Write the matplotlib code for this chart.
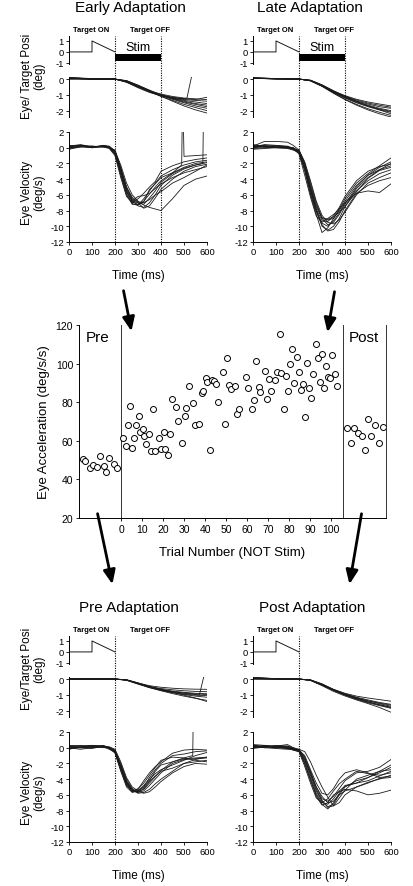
import matplotlib
matplotlib.use("Agg")
import matplotlib.pyplot as plt
from matplotlib.patches import FancyArrowPatch

plt.rcParams['font.family'] = ['Liberation Sans', 'DejaVu Sans']
plt.rcParams['axes.unicode_minus'] = False

W, H = 414, 887

## sample times (ms) for the eye traces
VT = [0, 50, 100, 150, 175, 200, 225, 250, 275, 300, 325, 350, 375, 400, 450, 500, 550, 600]
PT = [0, 100, 200, 250, 300, 350, 400, 450, 500, 550, 600]

target_t = [0, 100, 100, 200]
target_y = [0, 0, 1, 0]

## ---- Early adaptation ----
early_vel = [
    [0.1, 0.3, 0.1, 0.2, 0.0, -0.8, -3.5, -6.0, -7.2, -7.3, -6.5, -5.5, -4.5, -3.6, -2.8, -2.2, -1.8, -1.6],
    [-0.1, 0.2, 0.0, 0.3, 0.1, -0.5, -3.0, -5.5, -6.9, -7.2, -6.8, -5.9, -5.0, -4.2, -3.2, -2.5, -2.0, -1.8],
    [0.2, 0.4, 0.1, 0.2, 0.0, -0.3, -2.5, -5.0, -6.6, -7.4, -7.6, -7.0, -6.0, -4.8, -3.5, -2.7, -2.2, -1.9],
    [0.0, 0.1, 0.1, 0.2, 0.1, -0.6, -2.8, -5.2, -6.5, -7.0, -7.7, -7.4, -6.4, -5.3, -4.0, -3.0, -2.4, -2.1],
    [0.3, 0.2, 0.0, 0.1, -0.1, -1.0, -3.8, -6.2, -7.0, -6.5, -5.8, -5.0, -4.3, -3.0, -2.3, -1.8, -1.5, -1.3],
    [-0.2, 0.1, 0.1, 0.3, 0.2, -0.4, -2.2, -4.5, -6.0, -6.8, -7.3, -7.6, -7.8, -8.0, -6.5, -4.8, -4.0, -3.6],
    [0.1, 0.3, 0.0, 0.2, 0.0, -0.7, -3.2, -5.6, -6.8, -6.2, -6.1, -5.8, -5.2, -4.6, -3.8, -3.2, -2.8, -2.4],
    [0.0, 0.2, 0.2, 0.1, 0.0, -0.5, -2.7, -5.0, -6.3, -6.9, -7.0, -6.6, -6.0, -5.6, -4.5, -3.8, -3.0, -2.2],
]
early_vel_s1_t = [0, 50, 100, 150, 175, 200, 225, 250, 275, 300, 325, 350, 375, 400, 450, 490, 494, 500, 550, 600]
early_vel_s1 = [0.2, 0.3, 0.1, 0.2, 0.1, -0.9, -3.3, -5.8, -7.1, -7.3, -6.9, -5.3, -4.6, -3.8, -3.2, -2.2, 8, -1.1, -1.0, -0.9]
early_vel_s2_t = [0, 50, 100, 150, 175, 200, 225, 250, 275, 300, 325, 350, 375, 400, 450, 500, 550, 582, 586]
early_vel_s2 = [-0.1, 0.2, 0.2, 0.1, 0.0, -0.4, -2.6, -5.4, -6.8, -7.0, -7.2, -6.4, -5.5, -4.4, -3.3, -2.6, -2.2, -2.0, 8]

early_pos = [
    [0.05, 0.0, 0.0, -0.15, -0.45, -0.75, -0.95, -1.1, -1.2, -1.25, -1.3],
    [0.1, 0.0, 0.0, -0.2, -0.5, -0.8, -1.0, -1.2, -1.35, -1.45, -1.55],
    [0.05, 0.02, 0.0, -0.1, -0.4, -0.7, -1.0, -1.25, -1.45, -1.6, -1.75],
    [0.0, 0.0, 0.0, -0.12, -0.45, -0.8, -1.1, -1.35, -1.6, -1.8, -2.0],
    [0.1, 0.03, 0.0, -0.2, -0.55, -0.85, -1.05, -1.2, -1.3, -1.35, -1.4],
    [0.05, 0.0, -0.02, -0.1, -0.38, -0.72, -1.08, -1.4, -1.7, -1.95, -2.15],
    [0.0, 0.0, 0.0, -0.15, -0.48, -0.78, -1.02, -1.22, -1.4, -1.55, -1.65],
    [0.08, 0.02, 0.0, -0.18, -0.5, -0.8, -1.05, -1.28, -1.5, -1.7, -1.85],
    [0.05, 0.0, 0.0, -0.14, -0.45, -0.76, -1.0, -1.15, -1.25, -1.3, -1.15],
]
early_pos_s_t = [0, 100, 200, 250, 300, 350, 400, 450, 500, 512, 538]
early_pos_s = [0.05, 0.0, 0.0, -0.15, -0.47, -0.78, -1.02, -1.18, -1.24, -1.25, 0.5]

## ---- Late adaptation ----
late_vel = [
    [0.2, 0.8, 0.8, 0.7, 0.3, -0.3, -2.0, -4.5, -7.0, -9.0, -9.8, -9.5, -8.5, -7.2, -5.0, -3.5, -2.5, -1.8],
    [0.0, 0.1, 0.0, -0.1, -0.3, -0.6, -2.5, -5.5, -8.0, -10.0, -10.5, -10.0, -9.0, -7.5, -5.2, -3.8, -2.8, -2.0],
    [0.3, 0.2, 0.1, 0.0, -0.2, -0.5, -3.0, -6.0, -8.5, -10.8, -10.2, -9.0, -7.8, -6.5, -4.5, -3.3, -2.3, -1.3],
    [-0.2, -0.1, 0.0, 0.0, -0.1, -0.8, -3.5, -6.3, -8.7, -9.5, -9.0, -8.5, -7.8, -7.0, -5.8, -5.5, -5.7, -4.6],
    [0.1, 0.2, 0.3, 0.1, 0.0, -0.4, -2.2, -5.0, -7.5, -9.0, -9.2, -9.0, -8.0, -6.8, -4.8, -3.5, -2.8, -2.3],
    [0.0, 0.3, 0.1, 0.1, -0.2, -0.7, -2.8, -5.8, -8.2, -9.6, -10.0, -9.3, -8.3, -7.0, -5.5, -4.2, -3.3, -2.8],
    [0.4, 0.2, 0.0, 0.0, -0.2, -0.3, -1.8, -4.2, -6.8, -8.6, -9.5, -9.7, -9.2, -8.2, -6.0, -4.5, -3.8, -3.2],
    [-0.1, 0.0, 0.1, 0.0, -0.1, -0.5, -2.4, -5.2, -7.8, -9.3, -9.4, -8.7, -7.6, -6.2, -4.2, -3.0, -2.4, -2.1],
    [0.2, 0.1, 0.2, 0.1, 0.0, -0.6, -2.6, -5.4, -7.9, -9.8, -10.6, -10.4, -9.4, -8.0, -5.8, -4.8, -4.2, -3.8],
    [0.1, 0.4, 0.3, 0.2, -0.1, -0.4, -2.0, -4.8, -7.3, -8.9, -9.1, -8.8, -8.2, -7.5, -5.6, -3.9, -2.9, -2.5],
]
late_pos = [
    [0.05, 0.02, 0.0, -0.08, -0.38, -0.75, -1.05, -1.28, -1.45, -1.58, -1.7],
    [0.08, 0.03, 0.0, -0.1, -0.42, -0.82, -1.15, -1.42, -1.65, -1.85, -2.0],
    [0.05, 0.0, 0.0, -0.12, -0.45, -0.85, -1.2, -1.5, -1.75, -1.95, -2.1],
    [0.1, 0.02, 0.0, -0.1, -0.44, -0.88, -1.28, -1.6, -1.88, -2.1, -2.3],
    [0.05, 0.02, 0.0, -0.09, -0.4, -0.8, -1.12, -1.38, -1.58, -1.75, -1.85],
    [0.06, 0.01, 0.0, -0.11, -0.46, -0.9, -1.3, -1.65, -1.95, -2.2, -2.4],
    [0.04, 0.02, 0.0, -0.07, -0.36, -0.74, -1.1, -1.42, -1.7, -1.95, -2.2],
    [0.07, 0.03, 0.0, -0.1, -0.43, -0.83, -1.18, -1.47, -1.7, -1.9, -2.05],
    [0.05, 0.01, 0.0, -0.08, -0.4, -0.78, -1.08, -1.33, -1.52, -1.66, -1.78],
]

## ---- Pre adaptation ----
pre_vel = [
    [0.1, 0.2, 0.3, 0.2, 0.0, -0.5, -2.5, -4.5, -5.5, -5.6, -5.0, -3.8, -2.8, -2.0, -1.0, -0.8, -0.5, -0.4],
    [-0.1, 0.0, 0.2, 0.1, 0.1, -0.3, -2.0, -4.0, -5.2, -5.7, -5.5, -4.8, -4.0, -3.2, -2.0, -1.5, -1.4, -1.3],
    [0.2, 0.3, 0.1, 0.3, 0.0, -0.6, -2.8, -4.8, -5.6, -5.2, -4.5, -3.5, -2.5, -1.6, -1.2, -1.3, -1.6, -1.8],
    [0.0, -0.2, 0.0, 0.1, -0.1, -0.4, -2.2, -4.2, -5.4, -5.8, -5.7, -5.3, -4.6, -4.0, -3.0, -2.0, -1.5, -1.2],
    [-0.2, 0.1, 0.3, 0.2, 0.0, -0.7, -3.0, -5.0, -5.7, -5.5, -4.8, -4.0, -3.3, -2.8, -2.2, -1.6, -1.0, -0.6],
    [0.1, 0.0, -0.1, 0.2, -0.1, -0.5, -2.4, -4.4, -5.4, -5.7, -5.2, -4.3, -3.6, -3.0, -2.6, -2.0, -1.8, -1.6],
    [0.3, 0.2, 0.2, 0.1, 0.1, -0.2, -1.8, -3.8, -5.0, -5.5, -5.8, -5.6, -5.0, -4.3, -3.2, -2.4, -2.0, -2.1],
    [0.0, 0.1, 0.2, 0.0, 0.0, -0.4, -2.6, -4.6, -5.5, -5.4, -5.0, -4.2, -3.0, -2.2, -1.8, -1.4, -1.3, -1.2],
    [0.2, 0.0, 0.1, 0.1, -0.2, -0.6, -2.7, -4.7, -5.6, -5.3, -4.2, -3.2, -2.4, -1.8, -0.7, -0.3, -0.2, -0.3],
]
pre_vel_s1_t = [0, 50, 100, 150, 175, 200, 225, 250, 275, 300, 325, 350, 375, 400, 450, 500, 538, 542]
pre_vel_s1 = [-0.1, 0.1, 0.0, 0.2, 0.0, -0.5, -2.3, -4.3, -5.3, -5.6, -5.3, -4.5, -3.7, -2.9, -1.8, -1.3, -1.0, 8]

pre_pos = [
    [0.0, 0.0, 0.0, -0.05, -0.25, -0.42, -0.52, -0.58, -0.62, -0.64, -0.65],
    [0.02, 0.0, 0.0, -0.06, -0.28, -0.48, -0.6, -0.68, -0.74, -0.78, -0.8],
    [0.0, 0.01, 0.0, -0.07, -0.3, -0.52, -0.68, -0.8, -0.88, -0.94, -0.98],
    [0.01, 0.0, 0.0, -0.05, -0.26, -0.5, -0.7, -0.86, -0.98, -1.08, -1.15],
    [0.0, 0.0, 0.0, -0.08, -0.32, -0.55, -0.72, -0.85, -0.95, -1.02, -1.05],
    [0.02, 0.01, 0.0, -0.06, -0.29, -0.53, -0.74, -0.92, -1.08, -1.22, -1.35],
    [0.0, 0.0, 0.0, -0.04, -0.24, -0.46, -0.66, -0.84, -1.02, -1.2, -1.42],
    [0.01, 0.0, 0.0, -0.06, -0.27, -0.48, -0.64, -0.76, -0.84, -0.9, -0.93],
]
pre_pos_s_t = [0, 100, 200, 250, 300, 350, 400, 450, 500, 550, 567, 590]
pre_pos_s = [0.0, 0.0, 0.0, -0.06, -0.28, -0.5, -0.66, -0.8, -0.9, -0.98, -1.0, 0.4]

## ---- Post adaptation ----
post_vel = [
    [0.3, 0.2, 0.1, 0.0, -0.2, -0.3, -1.5, -3.5, -5.5, -6.8, -7.5, -7.2, -6.0, -5.0, -4.2, -3.8, -3.2, -2.5],
    [0.1, 0.2, 0.0, -0.1, -0.2, -0.4, -2.0, -4.2, -6.0, -7.2, -7.8, -7.0, -5.8, -4.8, -4.5, -4.2, -3.6, -3.0],
    [0.4, 0.3, 0.2, 0.1, -0.1, -0.3, -1.2, -3.0, -5.0, -6.5, -6.8, -6.2, -5.2, -4.2, -3.2, -3.0, -2.5, -1.5],
    [-0.1, 0.1, 0.2, 0.0, -0.3, -0.5, -2.4, -4.5, -6.4, -7.0, -6.5, -5.5, -4.6, -4.0, -3.0, -3.3, -3.5, -3.2],
    [0.2, 0.0, -0.1, -0.2, -0.2, -0.2, -0.5, -1.8, -3.5, -5.0, -6.3, -7.4, -7.0, -6.0, -5.0, -4.4, -4.0, -3.5],
    [0.0, 0.3, 0.1, 0.2, -0.1, -0.4, -1.8, -3.8, -5.8, -7.0, -7.2, -6.5, -5.5, -4.9, -4.5, -3.8, -3.0, -2.8],
    [0.3, 0.1, 0.2, 0.4, 0.0, -0.3, -1.0, -2.8, -4.5, -5.8, -6.0, -5.2, -4.0, -3.2, -2.8, -3.2, -3.8, -3.6],
    [0.1, 0.2, 0.0, 0.1, -0.2, -0.3, -2.1, -4.0, -6.2, -7.3, -7.0, -6.0, -5.6, -5.3, -5.5, -6.0, -5.8, -5.4],
    [0.2, 0.0, 0.1, -0.1, -0.3, -0.5, -1.6, -3.3, -5.3, -6.7, -7.6, -7.4, -6.4, -5.4, -4.0, -3.5, -3.0, -2.2],
    [0.0, 0.1, 0.3, 0.2, 0.0, -0.2, -1.3, -3.2, -5.0, -6.2, -7.0, -6.8, -6.0, -5.5, -5.0, -4.5, -3.9, -3.8],
]
post_pos = [
    [0.05, 0.0, 0.0, -0.06, -0.32, -0.65, -0.9, -1.08, -1.2, -1.3, -1.4],
    [0.1, 0.02, 0.0, -0.08, -0.38, -0.72, -0.98, -1.2, -1.38, -1.52, -1.65],
    [0.0, 0.0, 0.0, -0.07, -0.36, -0.7, -0.98, -1.22, -1.44, -1.62, -1.78],
    [0.02, 0.01, 0.0, -0.09, -0.42, -0.78, -1.07, -1.32, -1.55, -1.8, -2.1],
    [0.12, 0.02, 0.0, -0.05, -0.3, -0.66, -0.95, -1.18, -1.38, -1.56, -1.72],
    [0.0, 0.0, 0.0, -0.07, -0.35, -0.7, -1.0, -1.25, -1.46, -1.64, -1.8],
    [0.03, 0.01, 0.0, -0.08, -0.37, -0.72, -1.02, -1.28, -1.5, -1.68, -1.85],
    [0.05, 0.0, 0.0, -0.06, -0.33, -0.67, -0.94, -1.15, -1.32, -1.48, -1.6],
]

## ---- eye acceleration per trial ----
pre_trial = [-18, -17, -15, -13.5, -11.5, -10, -8, -7, -5.5, -3.5, -2]
pre_acc = [50.6, 49.7, 45.8, 47.5, 46.6, 52.3, 47.1, 44.0, 50.9, 47.8, 45.8]

adapt_trial = [1.1, 2.2, 3.2, 4.1, 5.2, 6.2, 7.1, 8.3, 9.2, 10.2, 11.1, 12.1, 13.2, 14.1, 15.1,
               16.2, 18.1, 19.0, 20.2, 21.1, 22.2, 23.2, 24.1, 26.2, 27.1, 29.2, 30.2, 31.1, 32.2,
               34.3, 35.2, 37.3, 38.3, 39.2, 40.2, 41.1, 42.2, 43.2, 44.1, 45.2, 46.2, 48.3, 49.2,
               50.3, 51.3, 52.2, 54.3, 55.2, 56.3, 59.4, 60.3, 62.4, 63.3, 64.3, 65.4, 66.3, 68.4,
               69.4, 70.3, 71.4, 73.3, 74.4, 75.4, 76.3, 77.5, 78.4, 79.4, 80.5, 81.4, 82.4, 83.5,
               84.4, 85.4, 86.5, 87.5, 88.4, 89.5, 90.5, 91.4, 92.5, 93.5, 94.4, 95.6, 96.5, 97.5,
               98.6, 99.5, 100.5, 101.6, 102.5]
adapt_acc = [61.5, 57.2, 68.0, 77.8, 56.4, 61.7, 68.2, 72.7, 64.7, 66.2, 62.5, 58.1, 63.4, 54.8, 76.4,
             54.8, 61.4, 55.7, 64.4, 55.7, 52.6, 63.7, 81.9, 77.4, 70.5, 59.1, 73.0, 76.9, 88.3,
             79.8, 68.1, 68.8, 84.8, 86.0, 92.6, 90.7, 55.1, 91.7, 90.8, 89.3, 80.0, 95.5, 68.8,
             103.1, 88.8, 86.9, 88.6, 74.1, 76.6, 93.1, 87.1, 76.6, 80.9, 101.6, 87.9, 85.2, 96.4,
             81.7, 92.2, 85.9, 91.7, 95.9, 115.4, 95.0, 76.7, 93.6, 85.7, 99.7, 107.4, 89.8, 103.4,
             95.5, 86.2, 89.3, 72.5, 100.2, 87.3, 82.1, 94.4, 110.1, 103.1, 90.5, 105.2, 87.3, 98.6,
             93.1, 92.4, 104.3, 94.5, 88.6]

post_trial = [107.5, 109.5, 111, 112.5, 114.5, 116, 117.5, 119, 121, 122.5, 124.5]
post_acc = [66.5, 58.9, 66.6, 64.0, 62.6, 55.1, 71.1, 62.5, 68.2, 59.0, 67.3]

vel_ticks = [2, 0, -2, -4, -6, -8, -10, -12]
time_ticks = [0, 100, 200, 300, 400, 500, 600]
trial_ticks = [0, 10, 20, 30, 40, 50, 60, 70, 80, 90, 100]
acc_ticks = [20, 40, 60, 80, 100, 120]

fig = plt.figure(figsize=(W / 100, H / 100), dpi=100, facecolor='w')


def px_box(x0, y0, x1, y1):
    return [x0 / W, 1 - y1 / H, (x1 - x0) / W, (y1 - y0) / H]


def ftext(x, y, s, **kw):
    fig.text(x / W, 1 - y / H, s, **kw)


def style(ax, bottom=False, size=6.8):
    ax.set_facecolor('none')
    ax.spines['top'].set_visible(False)
    ax.spines['right'].set_visible(False)
    ax.spines['bottom'].set_visible(bottom)
    for s in ax.spines.values():
        s.set_linewidth(0.7)
    ax.tick_params(length=2.2, width=0.6, labelsize=size, pad=1.5)
    if not bottom:
        ax.set_xticks([])


LC = '#1a1a1a'
LW = 0.6


def panel(x0, dy, title, title_x, vel, pos, extra_v, extra_p, stim, left):
    x1 = x0 + 138
    # dotted time markers across the whole column
    ov = fig.add_axes(px_box(x0, 37 + dy, x1, 243 + dy))
    ov.set_xlim(0, 600)
    ov.set_ylim(0, 1)
    ov.axis('off')
    ov.axvline(200, color='k', lw=0.8, ls=(0, (1, 1.2)))
    if stim:
        ov.axvline(400, color='k', lw=0.8, ls=(0, (1, 1.2)))

    # target trace
    at = fig.add_axes(px_box(x0, 37 + dy, x1, 65 + dy))
    style(at)
    at.plot(target_t, target_y, color=LC, lw=0.7)
    at.set_xlim(0, 600)
    at.set_ylim(-1.1, 1.45)
    at.set_yticks([1, 0, -1])
    if stim:
        at.barh(-0.52, 200, left=200, height=0.67, color='k')
        at.text(300, 0.45, 'Stim', ha='center', va='center', fontsize=9)
    ftext(x0 + 0.23 * 97, 31 + dy, 'Target ON', ha='center', va='center', fontsize=5.5, fontweight='bold')
    ftext(x0 + 0.23 * 352, 31 + dy, 'Target OFF', ha='center', va='center', fontsize=5.5, fontweight='bold')

    # eye position
    ap = fig.add_axes(px_box(x0, 78 + dy, x1, 118 + dy))
    style(ap)
    for tr in pos:
        ap.plot(PT, tr, color=LC, lw=LW)
    for tt, tr in extra_p:
        ap.plot(tt, tr, color=LC, lw=LW)
    ap.set_xlim(0, 600)
    ap.set_ylim(-2.4, 0.13)
    ap.set_yticks([0, -1, -2])

    # eye velocity
    av = fig.add_axes(px_box(x0, 133 + dy, x1, 243 + dy))
    style(av, bottom=True)
    for tr in vel:
        av.plot(VT, tr, color=LC, lw=LW)
    for tt, tr in extra_v:
        av.plot(tt, tr, color=LC, lw=LW)
    av.set_xlim(0, 600)
    av.set_ylim(-12, 2)
    av.set_yticks(vel_ticks)
    av.set_xticks(time_ticks)

    ftext(title_x, 8 + dy, title, ha='center', va='center', fontsize=11)
    ftext(x0 + 69, 276 + dy, 'Time (ms)', ha='center', va='center', fontsize=8.5)
    if left:
        lab = 'Eye/ Target Posi\n(deg)' if dy == 0 else 'Eye/Target Posi\n(deg)'
        ftext(33.5, 76 + dy - (7 if dy else 0), lab, ha='center', va='center', rotation=90,
              fontsize=8.5, linespacing=1.05, multialignment='center')
        ftext(33.5, 193 + dy, 'Eye Velocity\n(deg/s)', ha='center', va='center', rotation=90,
              fontsize=8.5, linespacing=1.05, multialignment='center')


panel(69, 0, 'Early Adaptation', 130, early_vel, early_pos,
      [(early_vel_s1_t, early_vel_s1), (early_vel_s2_t, early_vel_s2)],
      [(early_pos_s_t, early_pos_s)], True, True)
panel(253, 0, 'Late Adaptation', 310, late_vel, late_pos, [], [], True, False)
panel(69, 600, 'Pre Adaptation', 129, pre_vel, pre_pos,
      [(pre_vel_s1_t, pre_vel_s1)], [(pre_pos_s_t, pre_pos_s)], False, True)
panel(253, 600, 'Post Adaptation', 312, post_vel, post_pos, [], [], False, False)

## middle: acceleration across trials
ax = fig.add_axes(px_box(79, 326, 386, 519))
ax.set_facecolor('none')
ax.spines['top'].set_visible(False)
for s in ax.spines.values():
    s.set_linewidth(0.7)
ax.spines['right'].set_color('#333')
ax.tick_params(length=2.2, width=0.6, labelsize=7.5, pad=2)
ax.axvline(0, color='#333', lw=0.7)
ax.axvline(105.5, color='#333', lw=0.7)
mk = dict(ls='none', marker='o', ms=4.3, mfc='white', mec='k', mew=0.7)
ax.plot(pre_trial, pre_acc, **mk)
ax.plot(adapt_trial, adapt_acc, **mk)
ax.plot(post_trial, post_acc, **mk)
ax.set_xlim(-20, 126)
ax.set_ylim(20, 120)
ax.set_xticks(trial_ticks)
ax.set_yticks(acc_ticks)
ax.set_xlabel('Trial Number (NOT Stim)', fontsize=9.5, labelpad=9)
ax.set_ylabel('Eye Acceleration (deg/s/s)', fontsize=9.5, labelpad=4)
ax.text(-11, 114, 'Pre', ha='center', va='center', fontsize=11)
ax.text(115.5, 114, 'Post', ha='center', va='center', fontsize=11)

## arrows from the panels to the trial plot (pixel positions)
arrows = [((123, 289), (132, 335)), ((335, 290), (327, 336)),
          ((97, 512), (113, 588)), ((362, 512), (349, 588))]
for (xa, ya), (xb, yb) in arrows:
    fig.add_artist(FancyArrowPatch((xa / W, 1 - ya / H), (xb / W, 1 - yb / H),
                                   transform=fig.transFigure,
                                   arrowstyle='-|>,head_length=0.7,head_width=0.3',
                                   mutation_scale=12, lw=2, color='k'))

fig.savefig('out.png', dpi=100)
